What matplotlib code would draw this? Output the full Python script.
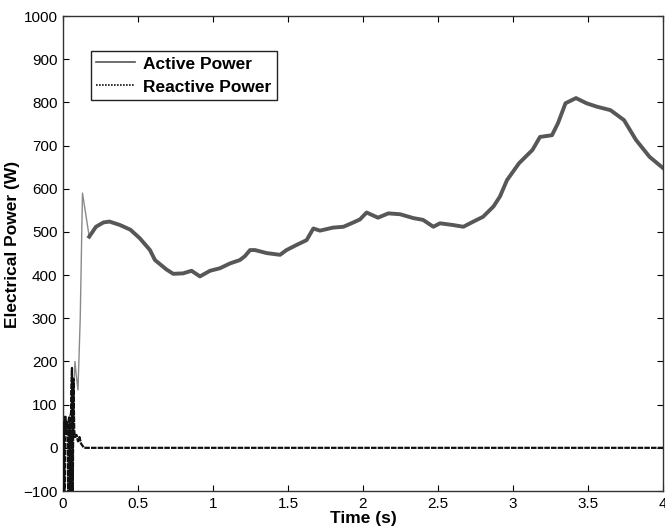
import matplotlib
matplotlib.use("Agg")
import matplotlib.pyplot as plt
import numpy as np

# Active power (W)
t_active = [0.0, 0.004, 0.01, 0.03, 0.05, 0.07, 0.08, 0.087, 0.1, 0.115, 0.13, 0.175,
            0.22, 0.27, 0.31, 0.38, 0.45, 0.513, 0.58, 0.613, 0.69, 0.735, 0.80, 0.857,
            0.913, 0.98, 1.047, 1.113, 1.18, 1.213, 1.247, 1.28, 1.358, 1.447, 1.49,
            1.558, 1.624, 1.669, 1.713, 1.80, 1.87, 1.936, 1.98, 2.024, 2.10, 2.169,
            2.247, 2.336, 2.40, 2.469, 2.513, 2.60, 2.669, 2.736, 2.80, 2.87, 2.913,
            2.96, 3.04, 3.13, 3.18, 3.26, 3.30, 3.35, 3.42, 3.49, 3.56, 3.65, 3.74,
            3.82, 3.91, 4.0]
p_active = [620, -100, 40, 60, 80, 120, 200, 173, 134, 300, 590, 489,
            512, 522, 524, 516, 505, 485, 458, 435, 413, 403, 404, 410,
            397, 410, 416, 427, 435, 444, 458, 458, 451, 447, 458,
            470, 481, 508, 503, 510, 512, 522, 529, 545, 533, 543,
            541, 532, 528, 512, 520, 516, 512, 524, 535, 559, 582,
            620, 659, 690, 720, 724, 752, 798, 810, 798, 790, 782, 759,
            713, 674, 648]

# Reactive power (VAr)
t_reactive = [0.0, 0.005, 0.01, 0.015, 0.02, 0.025, 0.03, 0.035, 0.04, 0.045, 0.05,
              0.055, 0.06, 0.065, 0.07, 0.075, 0.08, 0.09, 0.1, 0.11, 0.12, 0.14, 4.0]
q_reactive = [-120, 60, -120, 75, 30, 60, 40, -120, 70, 50, -130,
              130, 185, -130, 160, 40, 25, 30, 15, 25, 10, 0, 0]

plt.rcParams['font.family'] = ['Liberation Sans', 'DejaVu Sans']

fig = plt.figure(figsize=(6.65, 5.31), dpi=100)
ax = fig.add_axes([0.0947, 0.0753, 0.9023, 0.8945])

split = t_active.index(0.175)
ax.plot(t_active[:split + 1], p_active[:split + 1], color='#8a8a8a', lw=1.0, zorder=2)
ax.plot(t_active[split:], p_active[split:], color='#575757', lw=2.8, zorder=2,
        solid_joinstyle='round')
ax.plot(t_reactive, q_reactive, color='#111111', lw=1.6, ls=(0, (2.5, 0.5)), zorder=3)

# legend proxies
h1, = ax.plot([], [], color='#555555', lw=1.2, label='Active Power')
h2, = ax.plot([], [], color='#111111', lw=1.2, ls=(0, (1, 0.8)), label='Reactive Power')

ax.set_xlim(0, 4)
ax.set_ylim(-100, 1000)
ax.set_xticks(np.arange(0, 4.01, 0.5))
ax.set_xticklabels(['0', '0.5', '1', '1.5', '2', '2.5', '3', '3.5', '4'])
ax.set_yticks(np.arange(-100, 1001, 100))
ax.tick_params(direction='in', top=True, right=True, length=4, width=0.8,
               labelsize=11, pad=4)
for s in ax.spines.values():
    s.set_linewidth(1.0)
    s.set_color('#333333')

ax.set_xlabel('Time (s)', fontsize=12.5, fontweight='bold', labelpad=0)
ax.set_ylabel('Electrical Power (W)', fontsize=12.5, fontweight='bold')
ax.yaxis.set_label_coords(-0.071, 0.52)

leg = ax.legend(handles=[h1, h2], loc='upper left', bbox_to_anchor=(0.047, 0.926),
                borderaxespad=0, fancybox=False, framealpha=1, edgecolor='#222222',
                prop={'weight': 'bold', 'size': 12.5}, handlelength=2.2,
                handletextpad=0.5, labelspacing=0.45, borderpad=0.3)
leg.get_frame().set_linewidth(1.0)

fig.savefig('out.png', dpi=100)
